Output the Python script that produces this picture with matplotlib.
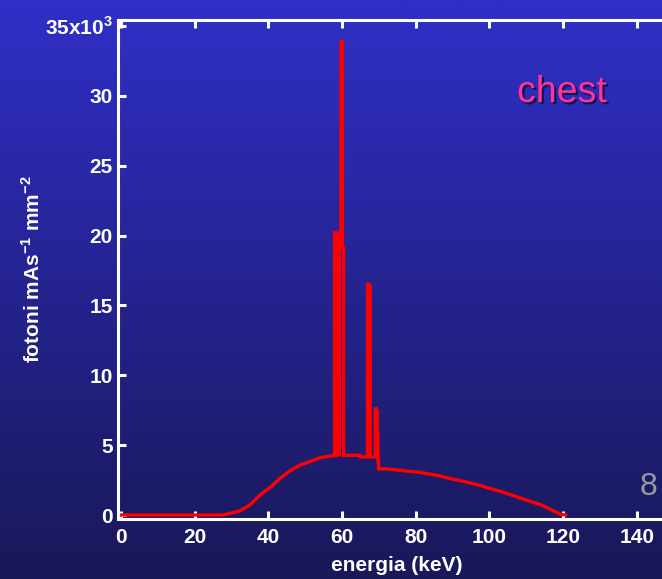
import numpy as np
import matplotlib
matplotlib.use('Agg')
import matplotlib.pyplot as plt
import matplotlib.patheffects as pe

# Spectrum (photons x 10^3); repeated energies give the vertical edges of the lines
energia = [0, 27.5, 29.6, 32.3, 35, 37.7, 40.5, 43.2, 45.9, 48.6, 51.3, 54, 56.7,
           57.95, 57.95, 58.5, 58.5, 58.6, 58.6, 59.1, 59.1, 59.2, 59.2, 59.7, 59.7,
           60.1, 60.1, 60.4, 60.4, 64.9, 65.0,
           66.9, 66.9, 67.25, 67.25, 67.3, 67.3, 67.65, 67.65,
           69.0, 69.0, 69.3, 69.3, 69.6, 69.6, 69.75, 69.75, 69.9, 69.9,
           72, 75, 78, 81, 83.5, 86.5, 89.5, 92.3, 95, 97.7, 100.4, 103, 105.8,
           108.5, 111.2, 114, 116.7, 119.4, 120.7]
fotoni = [0, 0, 0.12, 0.3, 0.72, 1.43, 1.98, 2.63, 3.17, 3.58, 3.82, 4.1, 4.22,
          4.25, 20.2, 20.2, 4.3, 4.3, 20.1, 20.1, 4.3, 4.3, 20.0, 20.0, 33.9,
          33.9, 19.1, 19.1, 4.27, 4.27, 4.16,
          4.16, 16.5, 16.5, 4.2, 4.2, 16.4, 16.4, 4.16,
          4.16, 7.6, 7.6, 7.4, 7.4, 5.7, 5.7, 3.9, 3.9, 3.3,
          3.3, 3.22, 3.13, 3.06, 2.94, 2.8, 2.6, 2.45, 2.28, 2.1, 1.88, 1.69, 1.45,
          1.21, 0.97, 0.74, 0.38, 0.05, 0.0]

xticks = [0, 20, 40, 60, 80, 100, 120, 140]
yticks = [0, 5, 10, 15, 20, 25, 30, 35]
ytick_labels = ['0', '5', '10', '15', '20', '25', '30', '35x10$^{3}$']

tick_font = ['Liberation Sans Narrow', 'Liberation Sans']
plt.rcParams['mathtext.fontset'] = 'custom'
plt.rcParams['mathtext.rm'] = 'Liberation Sans:bold'
plt.rcParams['mathtext.bf'] = 'Liberation Sans:bold'

fig = plt.figure(figsize=(6.62, 5.79), dpi=100)

# blue gradient background
bg = fig.add_axes([0, 0, 1, 1], zorder=-10)
top = np.array([48, 47, 200]) / 255
bot = np.array([25, 24, 88]) / 255
t = np.linspace(0, 1, 256)[:, None]
grad = (top * (1 - t) + bot * t)[:, None, :]
bg.imshow(grad, aspect='auto', extent=[0, 1, 0, 1])
bg.axis('off')

ax = fig.add_axes([0.179, 0.1028, 0.8384, 0.8618])
ax.set_facecolor('none')
ax.plot(energia, fotoni, color='#ff0000', lw=2.4, solid_joinstyle='miter')
ax.set_xlim(-0.7, 150)
ax.set_ylim(-0.32, 35.39)

for s in ['left', 'top', 'bottom']:
    ax.spines[s].set_color('white')
    ax.spines[s].set_linewidth(2.2)
ax.spines['right'].set_visible(False)

ax.set_xticks(xticks)
ax.set_yticks(yticks, ytick_labels)
ax.tick_params(axis='both', direction='in', length=5.8, width=2.2, color='white',
               labelcolor='white', pad=4)
ax.tick_params(axis='x', top=True, pad=6)
for lab in ax.get_xticklabels() + ax.get_yticklabels():
    lab.set_family(tick_font)
    lab.set_fontweight('bold')
    lab.set_fontsize(15)

fig.text(0.5997, 0.0225, 'energia (keV)', ha='center', va='center', color='white',
         fontsize=15, fontweight='bold', family='Liberation Sans')
fig.text(33 / 662, 1 - 269 / 579, r'fotoni mAs$^{\mathbf{-1}}$ mm$^{\mathbf{-2}}$',
         rotation=90, ha='center', va='center', color='white', fontsize=15,
         fontweight='bold', family='Liberation Sans')

fig.text(0.849, 0.8238, 'chest', ha='center', va='baseline', fontsize=27,
         color='#ff3399', family='Liberation Sans',
         path_effects=[pe.withSimplePatchShadow(offset=(1.5, -1.5),
                                                shadow_rgbFace='black', alpha=0.6)])
fig.text(0.979, 0.145, '8', ha='center', va='baseline', fontsize=23,
         color='#9a9a9a', family='Liberation Sans')

plt.savefig('out.png', dpi=100)
